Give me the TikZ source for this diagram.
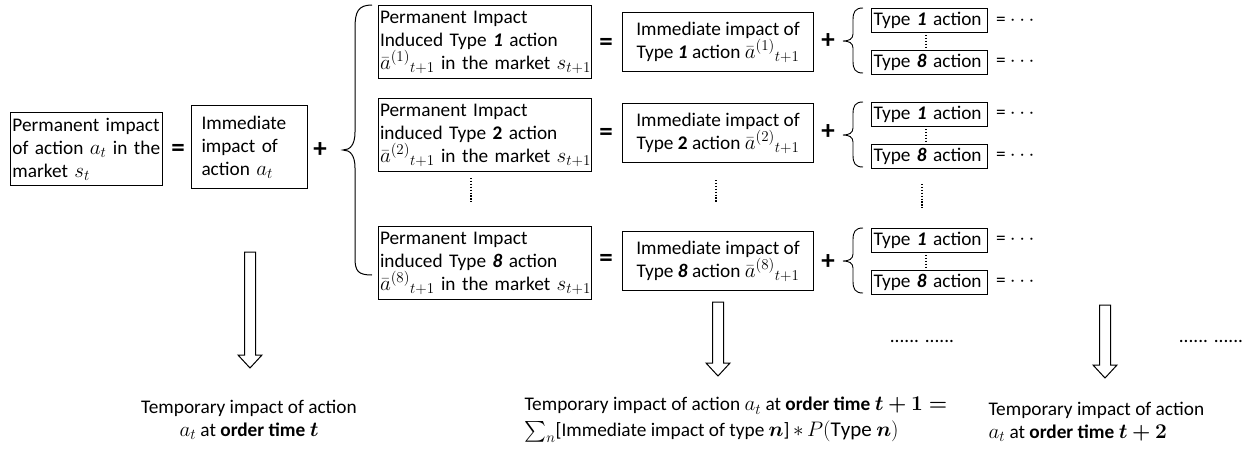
\RequirePackage{fix-cm}
\documentclass[tikz,border=0pt]{standalone}
\usepackage{amsmath,bm}
\usepackage{fontspec}
\setmainfont{Carlito}
\DeclareMathSizes{19.3}{21}{15}{11}
\begin{document}
\begin{tikzpicture}[x=1pt,y=-1pt,
  font=\fontsize{19.3}{23}\selectfont,
  box/.style={draw, line width=1pt, inner ysep=0pt, anchor=north west},
  pbox/.style={box, minimum width=213pt, minimum height=73pt, text width=210pt, inner xsep=1.5pt, align=left},
  ibox/.style={box, minimum width=191pt, minimum height=59pt, align=center},
  sbox/.style={box, minimum width=116pt, minimum height=24pt, text width=112pt, inner xsep=2pt, align=left},
  bigsign/.style={font=\fontsize{27}{27}\selectfont\bfseries, inner sep=0pt},
  vdotsline/.style={line width=1.4pt, dash pattern=on 1.3pt off 1.6pt},
  pics/harrow/.style={code={
    \draw[line width=1pt] (-5.5,0) -- (5.5,0) -- (5.5,#1-13) -- (12,#1-13) -- (0,#1)
      -- (-12,#1-13) -- (-5.5,#1-13) -- cycle;}},
  pics/sbrace/.style={code={
    \draw[line width=0.9pt] (20,0) .. controls (12,0) and (10,4) .. (10,12) -- (10,26)
      .. controls (10,31) and (6,33) .. (0,33) .. controls (6,33) and (10,35) .. (10,40)
      -- (10,53) .. controls (10,61) and (12,65) .. (20,65);}}
]
\useasboundingbox (0,0) rectangle (1248,450);

% left part
\node[box, minimum width=152pt, minimum height=73pt, text width=148pt, inner xsep=2pt, align=left] (A) at (10,112)
  {Permanent impact\\of action $a_t$ in the\\market $s_t$};
\node[bigsign] (eqA) at (178,150) {=};
\node[box, minimum width=116pt, minimum height=83pt, text width=96pt, inner xsep=10pt, align=left] (B) at (191,105)
  {Immediate\\impact of\\action $a_t$};
\node[bigsign] (plA) at (320,150) {+};

% big brace
\draw[line width=1pt] (372,5) .. controls (358,5) and (355,12) .. (355,28) -- (355,132)
  .. controls (355,145) and (350,150) .. (343,150) .. controls (350,150) and (355,155) .. (355,168)
  -- (355,258) .. controls (355,271) and (358,275) .. (372,275);

% permanent impact rows
\node[pbox] (P1) at (378,5)
  {Permanent Impact\\Induced Type \textbf{\textit{1}} action\\\mbox{$\bar a^{(1)}{}_{t+1}$ in the market $s_{t+1}$}};
\node[pbox] (P2) at (378,98)
  {Permanent Impact\\induced Type \textbf{2} action\\\mbox{$\bar a^{(2)}{}_{t+1}$ in the market $s_{t+1}$}};
\node[pbox] (P8) at (378,226)
  {Permanent Impact\\induced Type \textbf{\textit{8}} action\\\mbox{$\bar a^{(8)}{}_{t+1}$ in the market $s_{t+1}$}};
\draw[vdotsline] (471,178) -- (471,202);

\node[bigsign] (eq1) at (606,44) {=};
\node[bigsign] (eq2) at (606,134) {=};
\node[bigsign] (eq8) at (606,260) {=};

% immediate impact rows
\node[ibox] (I1) at (622,12) {Immediate impact of\\Type \textbf{\textit{1}} action $\bar a^{(1)}{}_{t+1}$};
\node[ibox] (I2) at (622,103) {Immediate impact of\\Type \textbf{2} action $\bar a^{(2)}{}_{t+1}$};
\node[ibox] (I8) at (622,231) {Immediate impact of\\Type \textbf{\textit{8}} action $\bar a^{(8)}{}_{t+1}$};
\draw[vdotsline] (716,180) -- (716,203);

\node[bigsign] (pl1) at (828,41) {+};
\node[bigsign] (pl2) at (828,132) {+};
\node[bigsign] (pl8) at (828,262) {+};

% small braces and type boxes
\pic at (843,8) {sbrace};
\pic at (843,102) {sbrace};
\pic at (843,228) {sbrace};

\node[sbox] (r1a) at (871,8) {Type \textbf{\textit{1}} action};
\node[sbox] (r1b) at (871,50) {Type \textbf{\textit{8}} action};
\node[sbox] (r2a) at (871,102) {Type \textbf{\textit{1}} action};
\node[sbox] (r2b) at (871,144) {Type \textbf{\textit{8}} action};
\node[sbox] (r8a) at (871,228) {Type \textbf{\textit{1}} action};
\node[sbox] (r8b) at (871,270) {Type \textbf{\textit{8}} action};
\draw[vdotsline] (926,35) -- (926,47);
\draw[vdotsline] (926,129) -- (926,141);
\draw[vdotsline] (926,255) -- (926,267);
\draw[vdotsline] (922,184) -- (922,208);

\node (e1a) at (1017,21) {= $\cdots$};
\node (e1b) at (1017,62) {= $\cdots$};
\node (e2a) at (1017,114) {= $\cdots$};
\node (e2b) at (1017,156) {= $\cdots$};
\node (e8a) at (1017,240) {= $\cdots$};
\node (e8b) at (1017,282) {= $\cdots$};

% arrows
\pic at (250,252) {harrow=116};
\pic at (718,302) {harrow=74};
\pic at (1105,305) {harrow=73};

\node (d1) at (922,341) {...... ......};
\node (d2) at (1211,341) {...... ......};

% bottom texts
\node[align=center] (T1) at (249,420) {Temporary impact of action\\$a_t$ at \textbf{order time $\bm{t}$}};
\node[align=left, anchor=west] (T2) at (521,420)
  {Temporary impact of action $a_t$ at \textbf{order time $\bm{t+1=}$}\\[3pt]$\sum_n$[Immediate impact of type $\bm{n}$]$\,*\,P(\mathrm{Type}\ \bm{n})$};
\node[align=left, anchor=west] (T3) at (985,422) {Temporary impact of action\\$a_t$ at \textbf{order time $\bm{t+2}$}};
\end{tikzpicture}
\end{document}
